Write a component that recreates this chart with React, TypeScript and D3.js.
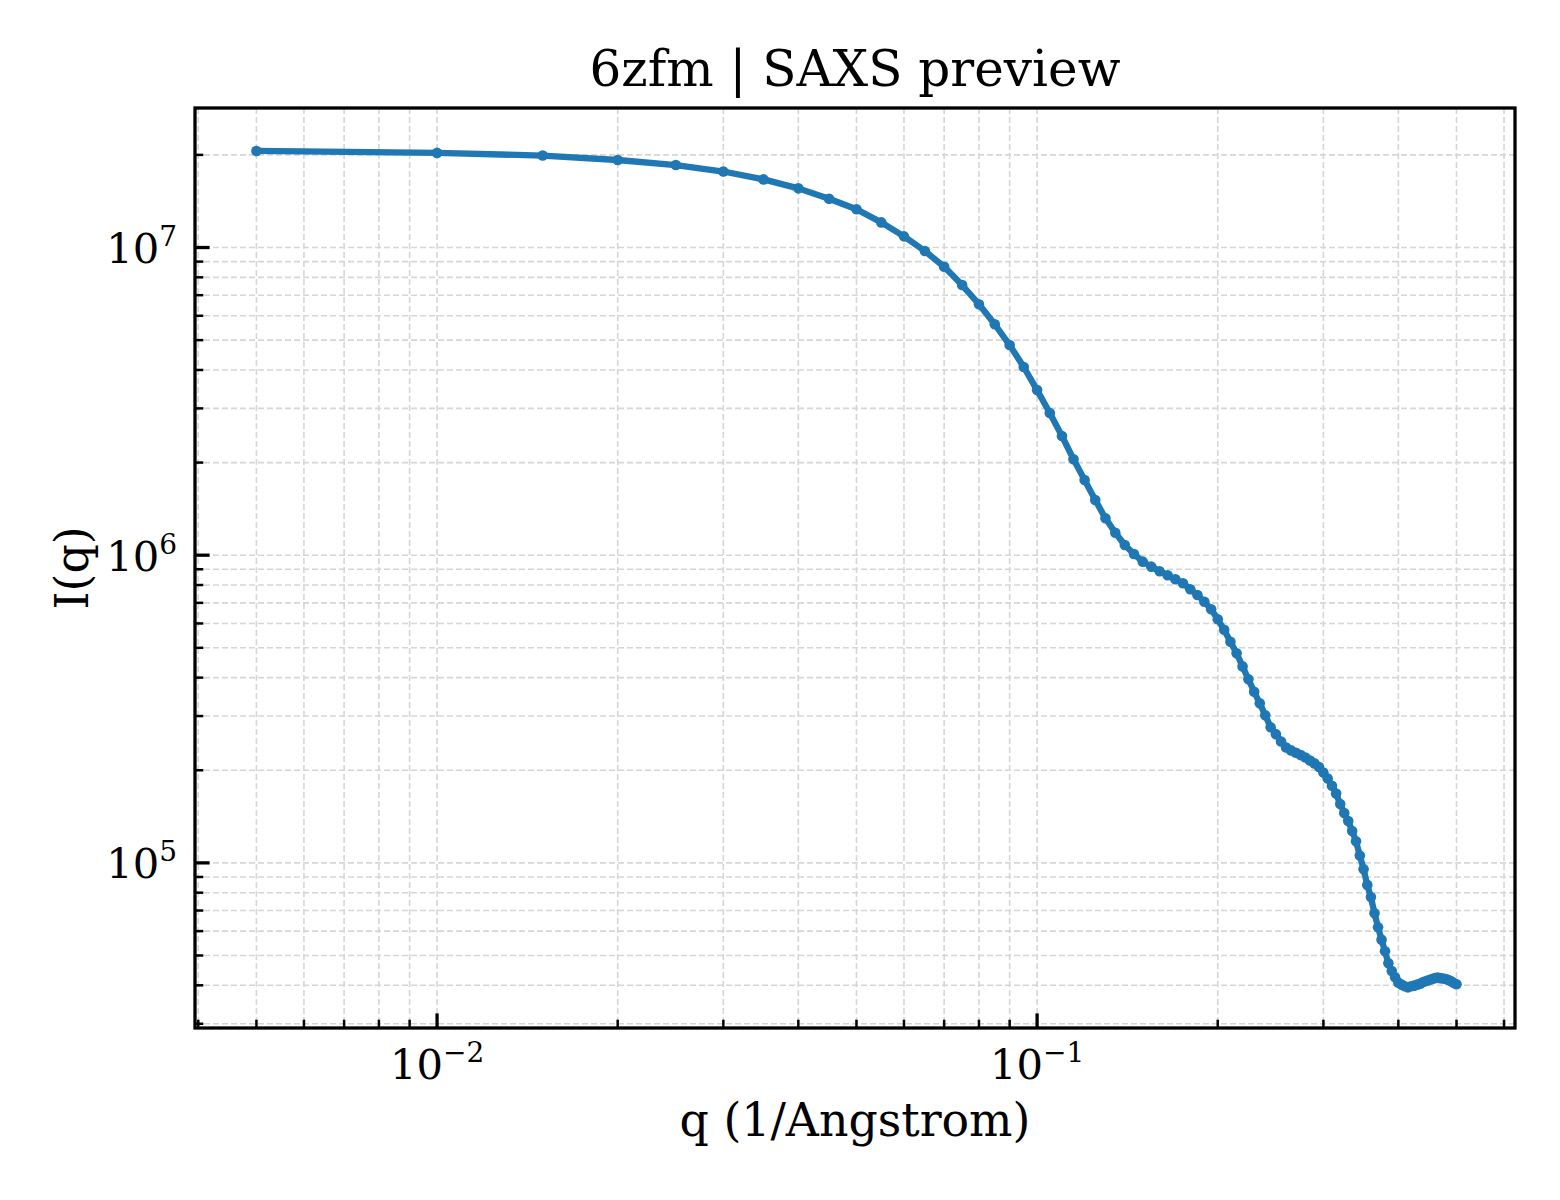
import * as d3 from 'd3'

const Q = [
  0.005, 0.01, 0.015, 0.02, 0.025, 0.03, 0.035, 0.04, 0.045, 0.05,
  0.055, 0.06, 0.065, 0.07, 0.075, 0.08, 0.085, 0.09, 0.095, 0.1,
  0.105, 0.11, 0.115, 0.12, 0.125, 0.13, 0.135, 0.14, 0.145, 0.15,
  0.155, 0.16, 0.165, 0.17, 0.175, 0.18, 0.185, 0.19, 0.195, 0.2,
  0.205, 0.21, 0.215, 0.22, 0.225, 0.23, 0.235, 0.24, 0.245, 0.25,
  0.255, 0.26, 0.265, 0.27, 0.275, 0.28, 0.285, 0.29, 0.295, 0.3,
  0.305, 0.31, 0.315, 0.32, 0.325, 0.33, 0.335, 0.34, 0.345, 0.35,
  0.355, 0.36, 0.365, 0.37, 0.375, 0.38, 0.385, 0.39, 0.395, 0.4,
  0.405, 0.41, 0.415, 0.42, 0.425, 0.43, 0.435, 0.44, 0.445, 0.45,
  0.455, 0.46, 0.465, 0.47, 0.475, 0.48, 0.485, 0.49, 0.495, 0.5,
]

const INTENSITY = [
  2.06e7, 2.03e7, 1.99e7, 1.925e7, 1.854e7, 1.766e7, 1.665e7, 1.557e7, 1.44e7, 1.331e7,
  1.207e7, 1.087e7, 9.74e6, 8.66e6, 7.55e6, 6.54e6, 5.63e6, 4.82e6, 4.09e6, 3.44e6,
  2.9e6, 2.44e6, 2.05e6, 1.755e6, 1.511e6, 1.318e6, 1.183e6, 1.079e6, 1.009e6, 9.53e5,
  9.18e5, 8.87e5, 8.61e5, 8.35e5, 8.11e5, 7.75e5, 7.42e5, 7.06e5, 6.67e5, 6.19e5,
  5.72e5, 5.23e5, 4.8e5, 4.35e5, 3.95e5, 3.6e5, 3.3e5, 3.02e5, 2.76e5, 2.62e5,
  2.48e5, 2.37e5, 2.32e5, 2.28e5, 2.24e5, 2.2e5, 2.15e5, 2.105e5, 2.05e5, 1.965e5,
  1.88e5, 1.78e5, 1.68e5, 1.553e5, 1.453e5, 1.368e5, 1.27e5, 1.176e5, 1.057e5, 9.54e4,
  8.48e4, 7.74e4, 6.86e4, 6.18e4, 5.63e4, 5.16e4, 4.72e4, 4.45e4, 4.25e4, 4.08e4,
  4.02e4, 3.97e4, 3.94e4, 3.97e4, 3.99e4, 4.02e4, 4.05e4, 4.1e4, 4.13e4, 4.16e4,
  4.19e4, 4.22e4, 4.24e4, 4.22e4, 4.21e4, 4.19e4, 4.16e4, 4.12e4, 4.07e4, 4.03e4,
]

const X_MAJOR = [1e-2, 1e-1]
const X_MAJOR_EXP = ['−2', '−1']
const Y_MAJOR = [1e5, 1e6, 1e7]
const Y_MAJOR_EXP = ['5', '6', '7']

const TITLE = '6zfm | SAXS preview'
const X_LABEL = 'q (1/Angstrom)'
const Y_LABEL = 'I(q)'

const FONT = 'DejaVu Serif, serif'
const BLUE = '#1f77b4'
const GRID = '#d6d6d6'

export default function App() {
  const width = 1560
  const height = 1200
  const left = 195
  const right = 1515
  const top = 108
  const bottom = 1028

  const x = d3.scaleLog().domain([0.00395, 0.6258]).range([left, right])
  const y = d3.scaleLog().domain([2.906e4, 2.841e7]).range([bottom, top])

  const isMajor = (v: number) => Math.abs(Math.log10(v) - Math.round(Math.log10(v))) < 1e-6
  const xTicks = x.ticks()
  const yTicks = y.ticks()

  const pts = Q.map((q, i) => [q, INTENSITY[i]] as [number, number])
  const line = d3
    .line<[number, number]>()
    .x((d) => x(d[0]))
    .y((d) => y(d[1]))

  return (
    <svg
      width={width}
      height={height}
      style={{ position: 'absolute', left: 0, top: 0, background: '#fff' }}
      fontFamily={FONT}
    >
      <rect x={0} y={0} width={width} height={height} fill="#fff" />

      {/* grid, major and minor */}
      <g stroke={GRID} strokeWidth={1.6} strokeDasharray="6,3">
        {xTicks.map((t) => (
          <line key={'gx' + t} x1={x(t)} x2={x(t)} y1={top} y2={bottom} />
        ))}
        {yTicks.map((t) => (
          <line key={'gy' + t} x1={left} x2={right} y1={y(t)} y2={y(t)} />
        ))}
      </g>

      {/* data */}
      <path d={line(pts) ?? ''} fill="none" stroke={BLUE} strokeWidth={6.3} strokeLinejoin="round" />
      {pts.map((d, i) => (
        <circle key={i} cx={x(d[0])} cy={y(d[1])} r={5.3} fill={BLUE} />
      ))}

      {/* ticks, pointing in */}
      <g stroke="#000">
        {xTicks.map((t) => (
          <line
            key={'tx' + t}
            x1={x(t)}
            x2={x(t)}
            y1={bottom}
            y2={bottom - (isMajor(t) ? 14.6 : 8.3)}
            strokeWidth={isMajor(t) ? 3.3 : 2.5}
          />
        ))}
        {yTicks.map((t) => (
          <line
            key={'ty' + t}
            x1={left}
            x2={left + (isMajor(t) ? 14.6 : 8.3)}
            y1={y(t)}
            y2={y(t)}
            strokeWidth={isMajor(t) ? 3.3 : 2.5}
          />
        ))}
      </g>

      <rect
        x={left}
        y={top}
        width={right - left}
        height={bottom - top}
        fill="none"
        stroke="#000"
        strokeWidth={3.3}
      />

      {/* tick labels */}
      {X_MAJOR.map((t, i) => (
        <text key={'lx' + t} x={x(t)} y={bottom + 51} textAnchor="middle" fontSize={41.7}>
          <tspan>10</tspan>
          <tspan dy={-17} fontSize={28}>
            {X_MAJOR_EXP[i]}
          </tspan>
        </text>
      ))}
      {Y_MAJOR.map((t, i) => (
        <text key={'ly' + t} x={left - 18} y={y(t) + 15.5} textAnchor="end" fontSize={41.7}>
          <tspan>10</tspan>
          <tspan dy={-17} fontSize={28}>
            {Y_MAJOR_EXP[i]}
          </tspan>
        </text>
      ))}

      <text x={(left + right) / 2} y={86} textAnchor="middle" fontSize={50}>
        {TITLE}
      </text>
      <text x={(left + right) / 2} y={1136} textAnchor="middle" fontSize={45.8}>
        {X_LABEL}
      </text>
      <text
        transform={`translate(88,${(top + bottom) / 2}) rotate(-90)`}
        textAnchor="middle"
        fontSize={45.8}
      >
        {Y_LABEL}
      </text>
    </svg>
  )
}
